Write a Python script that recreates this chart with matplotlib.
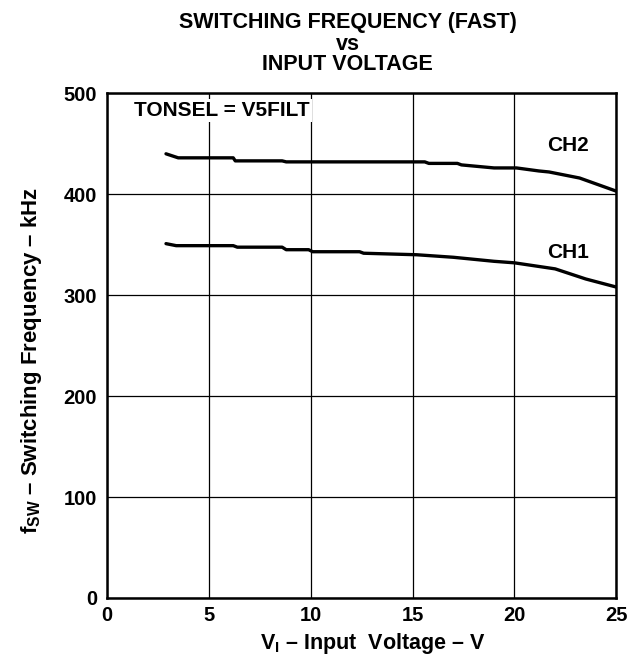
import matplotlib
matplotlib.use("Agg")
import matplotlib.pyplot as plt

plt.rcParams['font.family'] = ['Liberation Sans', 'DejaVu Sans']
plt.rcParams['font.weight'] = 'bold'
plt.rcParams['mathtext.fontset'] = 'custom'
plt.rcParams['mathtext.rm'] = 'Liberation Sans:bold'
plt.rcParams['mathtext.default'] = 'rm'

ch2_v = [2.9, 3.5, 6.2, 6.3, 8.6, 8.8, 15.6, 15.8, 17.2, 17.4, 19.0, 20.1, 21.2, 21.7, 23.2, 25.0]
ch2_f = [440, 436, 436, 433, 433, 432, 432, 430.5, 430.5, 429, 426, 426, 423, 422, 416, 403]
ch1_v = [2.9, 3.4, 6.2, 6.4, 8.6, 8.8, 9.9, 10.1, 12.4, 12.6, 15.2, 17.0, 19.0, 20.0, 22.0, 23.5, 25.0]
ch1_f = [351, 349, 349, 347.5, 347.5, 345, 345, 343, 343, 341.5, 340, 337.5, 333.5, 332, 326, 316, 308]

x_ticks = [0, 5, 10, 15, 20, 25]
y_ticks = [0, 100, 200, 300, 400, 500]

fig = plt.figure(figsize=(6.44, 6.65), dpi=100)
ax = fig.add_axes([0.166, 0.1008, 0.791, 0.759])

ax.plot(ch2_v, ch2_f, color='black', lw=2.4, solid_capstyle='round', zorder=3)
ax.plot(ch1_v, ch1_f, color='black', lw=2.4, solid_capstyle='round', zorder=3)

ax.set_xlim(0, 25)
ax.set_ylim(0, 500)
ax.set_xticks(x_ticks)
ax.set_yticks(y_ticks)
ax.grid(True, color='black', lw=0.9)
ax.tick_params(length=0, labelsize=14.5)
ax.tick_params(axis='x', pad=6)
ax.tick_params(axis='y', pad=7)
for lab in ax.get_xticklabels() + ax.get_yticklabels():
    lab.set_fontweight('bold')
for s in ax.spines.values():
    s.set_linewidth(1.8)
    s.set_zorder(4)

ax.text(1.35, 483, 'TONSEL = V5FILT', fontsize=15, fontweight='bold', va='center', ha='left',
        bbox=dict(facecolor='white', edgecolor='none', pad=1.5), zorder=5)
ax.text(21.6, 448.5, 'CH2', fontsize=15, fontweight='bold', va='center', ha='left', zorder=5)
ax.text(21.6, 342.5, 'CH1', fontsize=15, fontweight='bold', va='center', ha='left', zorder=5)

ax.set_xlabel('V$_{\\mathrm{I}}$ – Input  Voltage – V', fontsize=15.5, fontweight='bold', labelpad=4)
ax.xaxis.label.set_x(0.522)
ax.set_ylabel('f$_{\\mathrm{SW}}$ – Switching Frequency – kHz', fontsize=16, fontweight='bold', labelpad=14)
ax.yaxis.label.set_y(0.47)

fig.text(0.5 + 0.04, 1 - 28/665, 'SWITCHING FREQUENCY (FAST)', ha='center', va='baseline', fontsize=15.5, fontweight='bold')
fig.text(0.5 + 0.04, 1 - 50/665, 'vs', ha='center', va='baseline', fontsize=15.5, fontweight='bold')
fig.text(0.5 + 0.04, 1 - 70/665, 'INPUT VOLTAGE', ha='center', va='baseline', fontsize=15.5, fontweight='bold')

fig.savefig('out.png', dpi=100)
